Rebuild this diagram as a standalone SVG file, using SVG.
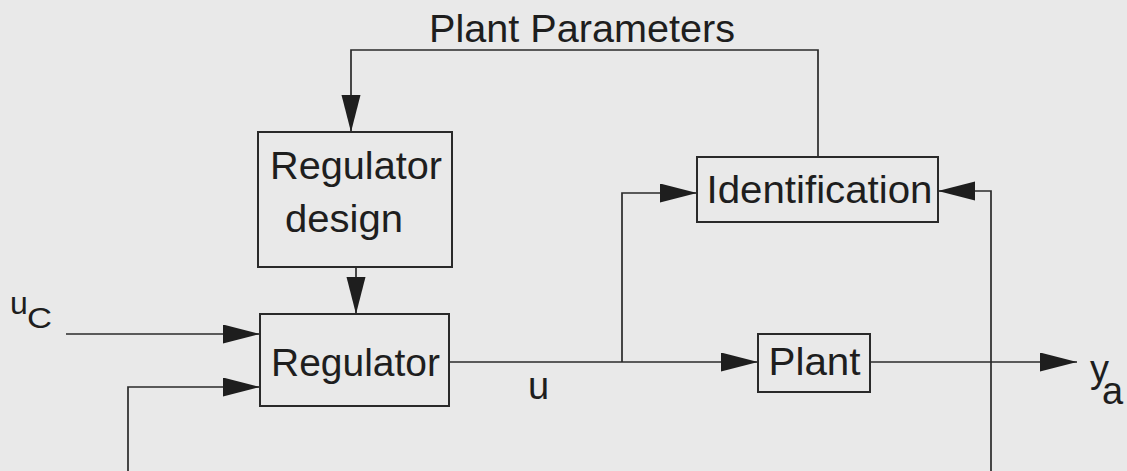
<svg xmlns="http://www.w3.org/2000/svg" width="1127" height="471" viewBox="0 0 1127 471">
  <style>
    .box { fill: none; stroke: #2a2a2a; stroke-width: 2; }
    .wire { fill: none; stroke: #2a2a2a; stroke-width: 1.7; }
    .lbl { font-family: "Liberation Sans", Arial, Helvetica, sans-serif; font-size: 38px; fill: #1e1e1e; }
  </style>
  <defs>
    <marker id="arrow" markerUnits="userSpaceOnUse" markerWidth="38" markerHeight="20" refX="37" refY="9.5" orient="auto">
      <path d="M0,0 L37,9.5 L0,19 Z" fill="#1e1e1e"/>
    </marker>
  </defs>

  <rect x="0" y="0" width="1127" height="471" fill="#e9e9e9"/>

  <!-- connectors -->
  <g id="connectors">
    <path class="wire" d="M818,157 V50 H351 V132" marker-end="url(#arrow)"/>
    <path class="wire" d="M356,267 V314" marker-end="url(#arrow)"/>
    <path class="wire" d="M66,334 H260" marker-end="url(#arrow)"/>
    <path class="wire" d="M128,471 V387 H260" marker-end="url(#arrow)"/>
    <path class="wire" d="M449,362 H758" marker-end="url(#arrow)"/>
    <path class="wire" d="M622,362 V193 H697" marker-end="url(#arrow)"/>
    <path class="wire" d="M870,362 H1077" marker-end="url(#arrow)"/>
    <path class="wire" d="M991,471 V191 H938" marker-end="url(#arrow)"/>
  </g>

  <!-- signal labels -->
  <g id="labels">
    <text class="lbl" x="429" y="42" textLength="306" lengthAdjust="spacingAndGlyphs">Plant Parameters</text>
    <text class="lbl" x="10" y="314" style="font-size:32px">u</text>
    <text class="lbl" x="27" y="328" style="font-size:29px" textLength="25" lengthAdjust="spacingAndGlyphs">C</text>
    <text class="lbl" x="528" y="399">u</text>
    <text class="lbl" x="1090" y="382">y</text>
    <text class="lbl" x="1102" y="404">a</text>
  </g>

  <g id="regulator-design">
    <rect class="box" x="258" y="132" width="194" height="135"/>
    <text class="lbl" x="270" y="179" textLength="172" lengthAdjust="spacingAndGlyphs">Regulator</text>
    <text class="lbl" x="285" y="232" textLength="118" lengthAdjust="spacingAndGlyphs">design</text>
  </g>

  <g id="regulator">
    <rect class="box" x="260" y="314" width="189" height="92"/>
    <text class="lbl" x="271" y="376" textLength="169" lengthAdjust="spacingAndGlyphs">Regulator</text>
  </g>

  <g id="identification">
    <rect class="box" x="697" y="157" width="241" height="65"/>
    <text class="lbl" x="706.5" y="203" textLength="226" lengthAdjust="spacingAndGlyphs">Identification</text>
  </g>

  <g id="plant">
    <rect class="box" x="758" y="334" width="112" height="58"/>
    <text class="lbl" x="768.5" y="375" textLength="92" lengthAdjust="spacingAndGlyphs">Plant</text>
  </g>
</svg>
